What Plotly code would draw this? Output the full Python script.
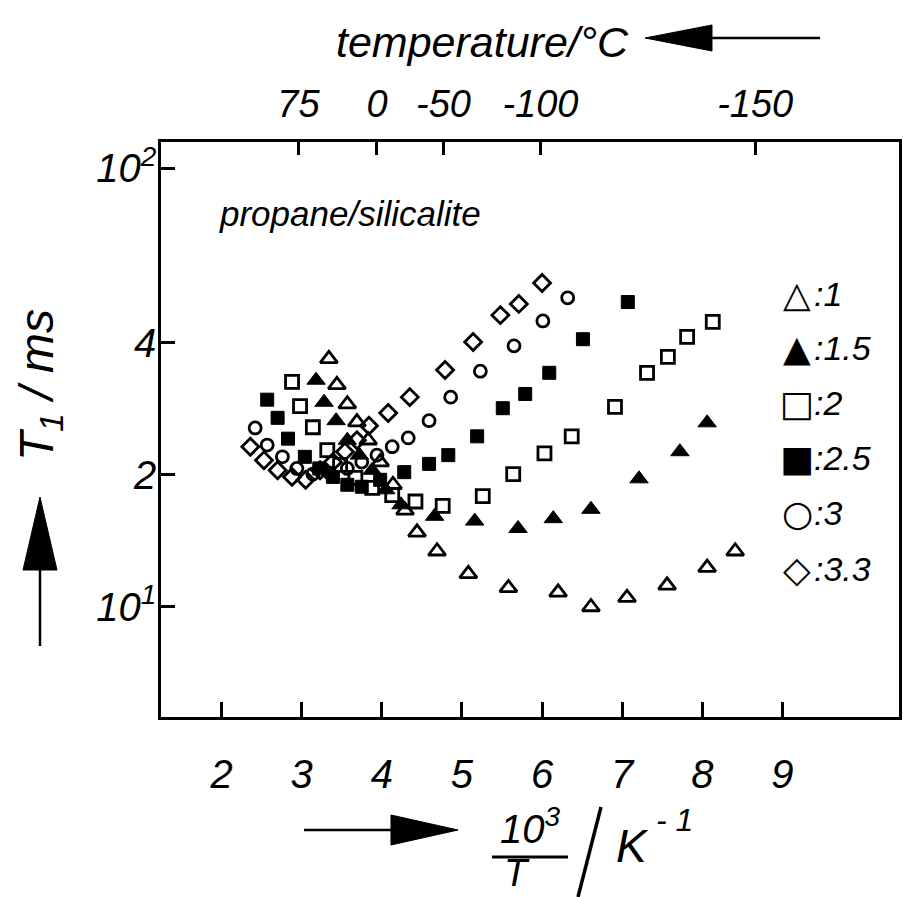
import plotly.graph_objects as go

# ---------------- data ----------------
# x = 10^3 / T  (K^-1),  y = T1 (ms)
x_1 = [3.34, 3.44, 3.57, 3.69, 3.83, 3.98, 4.14, 4.29, 4.44, 4.69, 5.08, 5.58, 6.20, 6.61, 7.06, 7.56, 8.06, 8.41]
t1_1 = [36.8, 32.1, 29.0, 26.4, 24.0, 21.4, 19.0, 16.6, 14.8, 13.4, 11.9, 11.05, 10.8, 10.0, 10.5, 11.2, 12.3, 13.4]

x_15 = [3.18, 3.28, 3.43, 3.57, 3.72, 3.88, 4.05, 4.24, 4.66, 5.16, 5.70, 6.14, 6.61, 7.21, 7.72, 8.06]
t1_15 = [32.9, 29.3, 26.6, 24.0, 22.2, 20.5, 18.5, 17.1, 16.1, 15.7, 15.1, 15.9, 16.7, 19.6, 22.6, 26.3]

x_2 = [2.88, 2.98, 3.14, 3.32, 3.48, 3.67, 3.88, 4.13, 4.42, 4.76, 5.26, 5.64, 6.03, 6.37, 6.91, 7.31, 7.57, 7.81, 8.13]
t1_2 = [32.6, 28.7, 25.7, 22.8, 21.1, 19.7, 18.7, 18.0, 17.4, 17.0, 17.9, 20.1, 22.4, 24.5, 28.6, 34.2, 37.2, 41.3, 44.7]

x_25 = [2.57, 2.70, 2.83, 3.04, 3.22, 3.39, 3.57, 3.75, 3.98, 4.28, 4.59, 4.83, 5.19, 5.51, 5.79, 6.09, 6.51, 7.07]
t1_25 = [29.7, 27.0, 24.2, 22.0, 20.7, 19.8, 19.0, 18.8, 19.5, 20.3, 21.2, 22.2, 24.5, 28.4, 30.6, 34.2, 40.8, 49.6]

x_3 = [2.42, 2.57, 2.76, 2.94, 3.14, 3.35, 3.57, 3.75, 3.94, 4.13, 4.33, 4.59, 4.86, 5.23, 5.65, 6.01, 6.32]
t1_3 = [25.6, 23.4, 22.0, 20.7, 20.1, 20.2, 20.7, 21.4, 22.2, 23.2, 24.3, 26.6, 30.1, 34.5, 39.4, 44.9, 50.7]

x_33 = [2.36, 2.53, 2.70, 2.88, 3.05, 3.23, 3.39, 3.54, 3.69, 3.84, 4.08, 4.35, 4.79, 5.14, 5.48, 5.71, 6.00]
t1_33 = [23.2, 21.6, 20.5, 19.8, 19.5, 20.5, 21.4, 22.6, 24.0, 25.9, 27.7, 30.1, 34.7, 40.2, 46.3, 49.1, 54.8]

loadings = ["1", "1.5", "2", "2.5", "3", "3.3"]
legend_glyphs = ["△", "▲", "□", "■", "○", "◇"]

x_ticks = [2, 3, 4, 5, 6, 7, 8, 9]
y_tick_vals = [10, 20, 40, 100]
y_tick_text = ["10<sup>1</sup>", "2", "4", "10<sup>2</sup>"]
temp_labels = ["75", "0", "-50", "-100", "-150"]
temp_tick_pos = [2.96, 3.94, 4.77, 5.98, 8.66]   # positions on the 10^3/T scale as drawn

# ---------------- styling ----------------
W, H = 903, 897
L, R, T, B = 161, 4, 142, 180
PW, PH = W - L - R, H - T - B
X_RANGE = [1.245, 10.454]

def px(x):
    return (x - L) / PW

def py(y):
    return (H - B - y) / PH

FONT = "Liberation Sans, Arial, sans-serif"
SYM_FONT = "DejaVu Sans"

series = [
    (x_1, t1_1, "triangle-up-open", 15, 2.8, "x"),
    (x_15, t1_15, "triangle-up", 16, 1, "x"),
    (x_2, t1_2, "square-open", 13, 2.8, "x"),
    (x_25, t1_25, "square", 13, 1, "x"),
    (x_3, t1_3, "circle-open", 12, 2.8, "x"),
    (x_33, t1_33, "diamond-open", 13, 2.8, "x2"),   # also carries the top (temperature) axis
]

fig = go.Figure()
for (xs, ys, sym, sz, lw, xa), name in zip(series, loadings):
    fig.add_trace(go.Scatter(
        x=xs, y=ys, mode="markers", name=":" + name, showlegend=False,
        xaxis=xa, yaxis="y",
        marker=dict(symbol=sym, size=sz, color="black",
                    line=dict(color="black", width=lw)),
    ))

axis_common = dict(showgrid=False, zeroline=False, ticks="inside",
                   tickcolor="black", tickwidth=2.5, color="black")

fig.update_layout(
    width=W, height=H,
    margin=dict(l=L, r=R, t=T, b=B, autoexpand=False),
    paper_bgcolor="white", plot_bgcolor="white",
    font=dict(family=FONT, size=36, color="black", style="italic"),
    xaxis=dict(range=X_RANGE, tickvals=x_ticks, ticklen=15,
               showline=True, linewidth=2.5, linecolor="black", mirror=True,
               tickfont=dict(size=40), ticklabelstandoff=20, **axis_common),
    xaxis2=dict(range=X_RANGE, overlaying="x", side="top",
                tickvals=temp_tick_pos, ticktext=temp_labels, ticklen=13,
                showline=False, tickfont=dict(size=38), ticklabelstandoff=16,
                **axis_common),
    yaxis=dict(type="log", range=[0.7491, 2.0604], tickvals=y_tick_vals,
               ticktext=y_tick_text, ticklen=14, showline=True, linewidth=2.5,
               linecolor="black", mirror=True, tickfont=dict(size=40),
               ticklabelstandoff=-6, **axis_common),
)

# ---------------- texts ----------------
ann = []
def add_text(text, x, y, size, xanchor="center", yanchor="middle", family=FONT,
             angle=0, style="italic", weight="normal"):
    ann.append(dict(text=text, x=px(x), y=py(y), xref="paper", yref="paper",
                    xanchor=xanchor, yanchor=yanchor, showarrow=False,
                    textangle=angle,
                    font=dict(family=family, size=size, color="black",
                              style=style, weight=weight)))

add_text("temperature/°C", 482, 42, 43)
add_text("propane/silicalite", 350, 213, 35)
add_text("T<sub>1</sub> / ms", 40, 385, 48, angle=-90)
add_text("10<sup>3</sup>", 530, 853, 40, yanchor="bottom")
add_text("T", 517, 896, 38, yanchor="bottom")
add_text("K", 614, 846, 46, xanchor="left")
add_text("- 1", 654, 820, 32, xanchor="left")

legend_rows = [294, 348, 403, 458, 513, 569]
for g, lab, yy in zip(legend_glyphs, loadings, legend_rows):
    add_text(g, 797, yy, 36, family=SYM_FONT, style="normal", weight="bold")
    add_text(":" + lab, 812, yy, 34, xanchor="left")

fig.update_layout(annotations=ann)

# ---------------- arrows / fraction bar ----------------
def path_shape(pts):
    d = "M " + " L ".join(f"{px(a):.5f},{py(b):.5f}" for a, b in pts) + " Z"
    return dict(type="path", xref="paper", yref="paper", path=d,
                fillcolor="black", line=dict(color="black", width=1))

def line_shape(x0, y0, x1, y1, w=2.5):
    return dict(type="line", xref="paper", yref="paper", x0=px(x0), y0=py(y0),
                x1=px(x1), y1=py(y1), line=dict(color="black", width=w))

shapes = [
    # top arrow (pointing left)
    path_shape([(645, 38), (712, 25), (712, 51)]),
    line_shape(712, 38, 820, 38),
    # left arrow (pointing up)
    path_shape([(40, 497), (23, 570), (57, 570)]),
    line_shape(40, 570, 40, 646),
    # bottom arrow (pointing right)
    line_shape(304, 830, 391, 830),
    path_shape([(458, 830), (391, 815), (391, 845)]),
    # fraction bar and slash of the x label
    line_shape(492, 857, 568, 857, 3),
    line_shape(578, 897, 601, 807, 3.5),
]
fig.update_layout(shapes=shapes)

fig.write_html("out.html")
